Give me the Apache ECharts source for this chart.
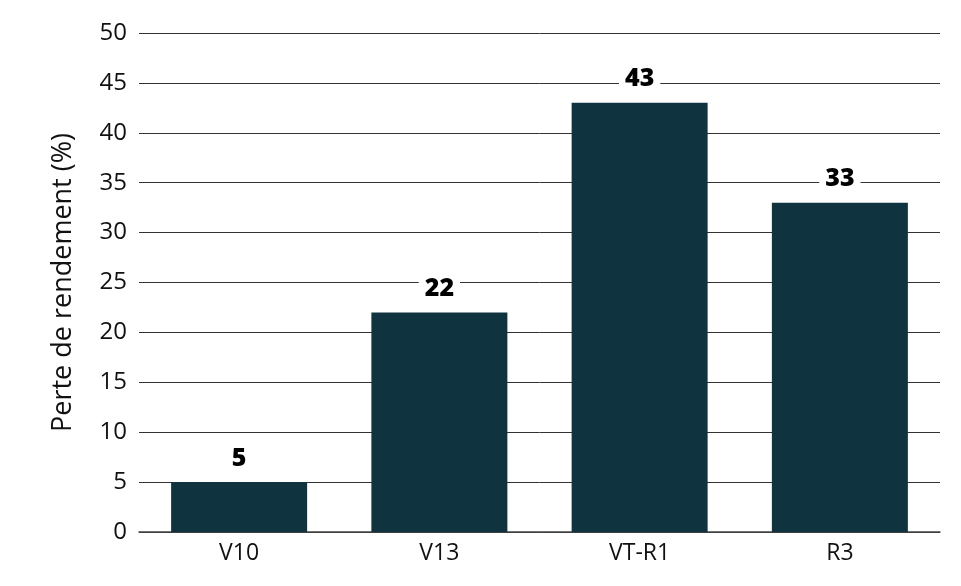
<!DOCTYPE html>
<html><head><meta charset="utf-8">
<script src="https://cdn.jsdelivr.net/npm/echarts@6/dist/echarts.min.js"></script>
<style>html,body{margin:0;padding:0;background:#fff}#c{width:961px;height:586px}</style>
</head><body><div id="c"></div>
<script>
const categories = ["V10", "V13", "VT-R1", "R3"];
const values = [5, 22, 43, 33];
const yTicks = [0, 5, 10, 15, 20, 25, 30, 35, 40, 45, 50];

const FONT = '"Open Sans", "Noto Sans", sans-serif';
const chart = echarts.init(document.getElementById('c'), null, {renderer: 'canvas'});
chart.setOption({
  animation: false,
  grid: {left: 139, right: 21, top: 33, bottom: 54},
  xAxis: {
    type: 'category', data: categories,
    axisLine: {show: true, lineStyle: {color: '#444', width: 1.5}},
    axisTick: {show: false},
    axisLabel: {color: '#111', fontSize: 23, fontFamily: FONT, margin: 10}
  },
  yAxis: {
    type: 'value', min: yTicks[0], max: yTicks[yTicks.length - 1], interval: 5,
    name: 'Perte de rendement (%)', nameLocation: 'middle', nameGap: 62,
    nameTextStyle: {color: '#111', fontSize: 27, fontFamily: FONT},
    axisLine: {show: false}, axisTick: {show: false},
    axisLabel: {color: '#111', fontSize: 24, fontFamily: FONT, margin: 12},
    splitLine: {lineStyle: {color: '#333', width: 1}}
  },
  series: [{
    type: 'bar', data: values, barWidth: 136,
    itemStyle: {color: '#10343f'},
    label: {
      show: true, position: 'top', distance: 11,
      color: '#000', fontSize: 25, fontWeight: 800, fontFamily: FONT,
      backgroundColor: '#fff', padding: [0, 6]
    }
  }]
});
</script></body></html>
